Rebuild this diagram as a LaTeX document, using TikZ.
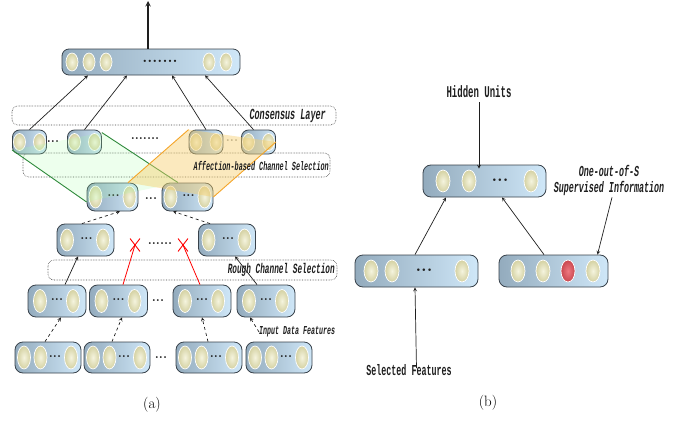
\documentclass[tikz,border=0pt]{standalone}
\usepackage{fontspec}
\usetikzlibrary{positioning,shapes.geometric,shapes.misc}
\newfontfamily\lblfont{Liberation Mono}[FakeStretch=0.55]
\definecolor{ink}{HTML}{1E1E1E}
\definecolor{boxlight}{HTML}{CFE7F8}
\definecolor{boxdark}{HTML}{93ABBD}
\definecolor{boxedge}{HTML}{38424B}
\definecolor{unitlight}{HTML}{F5F4DE}
\definecolor{unitdark}{HTML}{D4D1A2}
\definecolor{hotlight}{HTML}{EE7880}
\definecolor{hotdark}{HTML}{C9474F}
\definecolor{greenline}{HTML}{2F8A3C}
\definecolor{orangeline}{HTML}{F4A52A}
\definecolor{orangefill}{HTML}{F6CF6E}

\tikzset{
  layerbox/.style={draw=boxedge, line width=0.8pt, rounded corners=8pt, left color=boxdark, right color=boxlight, inner sep=0pt},
  unitcell/.style={ellipse, draw=white, line width=0.7pt, inner color=unitlight, outer color=unitdark, minimum width=13pt, minimum height=22pt, inner sep=0pt},
  hotcell/.style={unitcell, inner color=hotlight, outer color=hotdark},
  dotrow/.style={font=\bfseries\fontsize{#1}{#1}\selectfont, inner sep=0pt, text=ink},
  dotrow/.default=13,
  region/.style={draw=ink!85, densely dotted, rounded corners=6pt, line width=0.6pt},
  lbl/.style={font=\lblfont\bfseries\itshape\fontsize{#1}{16}\selectfont, text=ink, inner sep=0pt},
  lblup/.style={font=\lblfont\bfseries\fontsize{#1}{15}\selectfont, text=ink, inner sep=0pt, align=center},
  link/.style={draw=ink, line width=0.7pt, ->, >=stealth},
}

\begin{document}
\begin{tikzpicture}[x=1pt,y=-1pt]
  \useasboundingbox (0,0) rectangle (689,423);

  % ---------- (a) ----------
  % dotted regions
  \draw[region] (12,106) rectangle (336,125);
  \draw[region] (23,153) rectangle (330,177);
  \draw[region] (48,260) rectangle (337,280);

  % output layer
  \node[layerbox, minimum width=178pt, minimum height=26pt, rounded corners=7pt] (top) at (151,62) {};
  \foreach \u [count=\k] in {72,89,106,209,226}
    \node[unitcell, minimum width=12pt, minimum height=18pt] (top-\k) at (\u,62) {};
  \node[dotrow=16] (top-dots) at (160,61) {.......};
  \coordinate (output) at (148,1);
  \draw[link, line width=1.4pt] ([xshift=-3pt]top.north) -- (output);

  % consensus layer
  \foreach \x [count=\n] in {29.5,84.5,206,258.5} {
    \node[layerbox, minimum width=34pt, minimum height=24pt, rounded corners=7pt] (cons-\n) at (\x,142) {};
    \node[unitcell, minimum width=12pt, minimum height=17pt] (cons-\n-a) at (\x-10,142) {};
    \node[unitcell, minimum width=12pt, minimum height=17pt] (cons-\n-b) at (\x+10,142) {};
  }
  \node[dotrow] (cons-gap1) at (53,142) {...};
  \node[dotrow] (cons-gap2) at (145,139) {.......};
  \node[dotrow, text=ink!45] (cons-gap3) at (232,141) {...};

  % affection-based selection
  \foreach \x [count=\n] in {112.5,187.5} {
    \node[layerbox, minimum width=51pt, minimum height=28pt] (aff-\n) at (\x,197) {};
    \node[unitcell] (aff-\n-a) at (\x-17,197) {};
    \node[unitcell] (aff-\n-b) at (\x+17,197) {};
    \node[dotrow] (aff-\n-dots) at (\x+1,196) {...};
  }
  \node[dotrow] (aff-gap) at (151,199) {...};

  % rough selection
  \foreach \x [count=\n] in {85.5,227} {
    \node[layerbox, minimum width=57pt, minimum height=32pt] (rough-\n) at (\x,240) {};
    \node[unitcell] (rough-\n-a) at (\x-18.5,240) {};
    \node[unitcell] (rough-\n-b) at (\x+17.5,240) {};
    \node[dotrow] (rough-\n-dots) at (\x+1,239) {...};
  }
  \node[dotrow] (rough-gap) at (160,244) {......};
  \node[cross out, draw=red, line width=0.9pt, minimum width=9pt, minimum height=12pt, inner sep=0pt] (cut-1) at (135,245) {};
  \node[cross out, draw=red, line width=0.9pt, minimum width=9pt, minimum height=12pt, inner sep=0pt] (cut-2) at (183,245) {};

  % input features
  \foreach \x [count=\n] in {57,118.5,202,266} {
    \node[layerbox, minimum width=58pt, minimum height=32pt] (in-\n) at (\x,301) {};
    \node[unitcell, minimum height=23pt] (in-\n-a) at (\x-17,301) {};
    \node[unitcell, minimum height=23pt] (in-\n-b) at (\x+16,301) {};
    \node[dotrow] (in-\n-dots) at (\x,300) {...};
  }
  \node[dotrow] (in-gap) at (158,301) {...};

  % raw data
  \foreach \x [count=\n] in {48,117,209,279} {
    \node[layerbox, minimum width=66pt, minimum height=31pt] (raw-\n) at (\x,357.5) {};
    \node[unitcell, minimum height=23pt] (raw-\n-a) at (\x-24,357.5) {};
    \node[unitcell, minimum height=23pt] (raw-\n-b) at (\x-7.5,357.5) {};
    \node[unitcell, minimum height=23pt] (raw-\n-c) at (\x+23,357.5) {};
    \node[dotrow] (raw-\n-dots) at (\x+7,357) {...};
  }
  \node[dotrow] (raw-gap) at (161,358) {...};

  % selection wedges
  \coordinate (g1) at ([yshift=-8pt]cons-1.west);
  \coordinate (g2) at ([yshift=-3pt]cons-2.north east);
  \coordinate (g3) at ([xshift=-9.5pt]aff-2.north);
  \coordinate (g4) at ([yshift=-5pt]aff-1.west);
  \fill[green!35, opacity=0.2] (g1) -- (g2) -- (g3) -- (g4) -- cycle;
  \draw[greenline, line width=0.9pt] (g1) -- (g4);
  \draw[greenline, line width=0.9pt] (g2) -- (g3);
  \coordinate (o1) at (cons-3.north west);
  \coordinate (o2) at (cons-4.east);
  \coordinate (o3) at (aff-2.east);
  \coordinate (o4) at ([xshift=15.5pt]aff-1.north);
  \fill[orangefill, opacity=0.45] (o1) -- (o2) -- (o3) -- (o4) -- cycle;
  \draw[orangeline, line width=0.9pt] (o1) -- (o4);
  \draw[orangeline, line width=0.9pt] (o2) -- (o3);

  % connectors
  \draw[link] (cons-1.north) -- ([xshift=-63pt]top.south);
  \draw[link] (cons-2.north) -- ([xshift=-24pt]top.south);
  \draw[link] (cons-3.north) -- ([xshift=21pt]top.south);
  \draw[link] ([xshift=-5pt]cons-4.north) -- ([xshift=54pt]top.south);
  \draw[link, dashed] ([xshift=-3.5pt]rough-1.north) -- ([xshift=7.5pt]aff-1.south);
  \draw[link, dashed] ([xshift=-17pt]rough-2.north) -- ([xshift=-14.5pt]aff-2.south);
  \draw[link] ([xshift=8pt]in-1.north) -- ([xshift=-7.5pt]rough-1.south);
  \draw[red, line width=0.8pt] ([xshift=4.5pt]in-2.north) -- (cut-1.center);
  \draw[red, line width=0.8pt] ([xshift=-2pt]in-3.north) -- (cut-2.center);
  \draw[link] ([xshift=-9pt]in-4.north) -- ([xshift=8pt]rough-2.south);
  \draw[link, dashed] ([xshift=-3pt]raw-1.north) -- ([xshift=4pt]in-1.south);
  \draw[link, dashed] ([xshift=-5pt]raw-2.north) -- ([xshift=3.5pt]in-2.south);
  \draw[link, dashed] ([xshift=-1pt]raw-3.north) -- (in-3.south);

  % labels
  \node[lbl=15.4, anchor=east] (cons-lbl) at (326,116) {Consensus Layer};
  \node[lbl=12.4, anchor=east] (aff-lbl) at (329,166) {Affection-based Channel Selection};
  \node[lbl=14.1, anchor=east] (rough-lbl) at (335,270) {Rough Channel Selection};
  \node[lbl=12.1, anchor=west] (in-lbl) at (259,332) {Input Data Features};
  \draw[link, dashed] (in-lbl.west) -- ([xshift=-16pt]in-4.south);
  \node[font=\fontsize{15}{15}\selectfont] (cap-a) at (152,405) {(a)};

  % ---------- (b) ----------
  \node[layerbox, minimum width=123pt, minimum height=32pt] (hidden) at (484.5,181) {};
  \foreach \u [count=\k] in {443,469,531}
    \node[unitcell, minimum width=14pt] (hidden-\k) at (\u,181) {};
  \node[dotrow=18] (hidden-dots) at (500,180) {...};

  \node[layerbox, minimum width=123pt, minimum height=32pt] (selected) at (416.5,271) {};
  \foreach \u [count=\k] in {371,392,462}
    \node[unitcell, minimum width=14pt] (selected-\k) at (\u,271) {};
  \node[dotrow=18] (selected-dots) at (424,270) {...};

  \node[layerbox, minimum width=109pt, minimum height=32pt] (target) at (553.5,271) {};
  \node[unitcell, minimum width=14pt] (target-1) at (518,271) {};
  \node[unitcell, minimum width=14pt] (target-2) at (543,271) {};
  \node[hotcell, minimum width=14pt] (target-3) at (568,271) {};
  \node[unitcell, minimum width=14pt] (target-4) at (593,271) {};

  \node[lblup=16.4] (hid-lbl) at (479,92) {Hidden Units};
  \node[lblup=15.2] (sel-lbl) at (409,370) {Selected Features};
  \node[lbl=15.2, align=center] (sup-lbl) at (609,180) {One-out-of-S\\Supervised Information};

  \draw[link] ([yshift=-4pt]hid-lbl.south) -- ([yshift=-4pt]hid-lbl.south |- hidden.north);
  \draw[link] ([xshift=-1.5pt]selected.north) -- ([xshift=-38.5pt]hidden.south);
  \draw[link] ([xshift=-9.5pt]target.north) -- ([xshift=17.5pt]hidden.south);
  \draw[link] ([xshift=3pt,yshift=-2pt]sup-lbl.south) -- ([xshift=44pt]target.north);
  \draw[link] ([yshift=-4pt]sel-lbl.north -| selected.south) -- ([xshift=-1.5pt]selected.south);
  \node[font=\fontsize{15}{15}\selectfont] (cap-b) at (488,403) {(b)};
\end{tikzpicture}
\end{document}
